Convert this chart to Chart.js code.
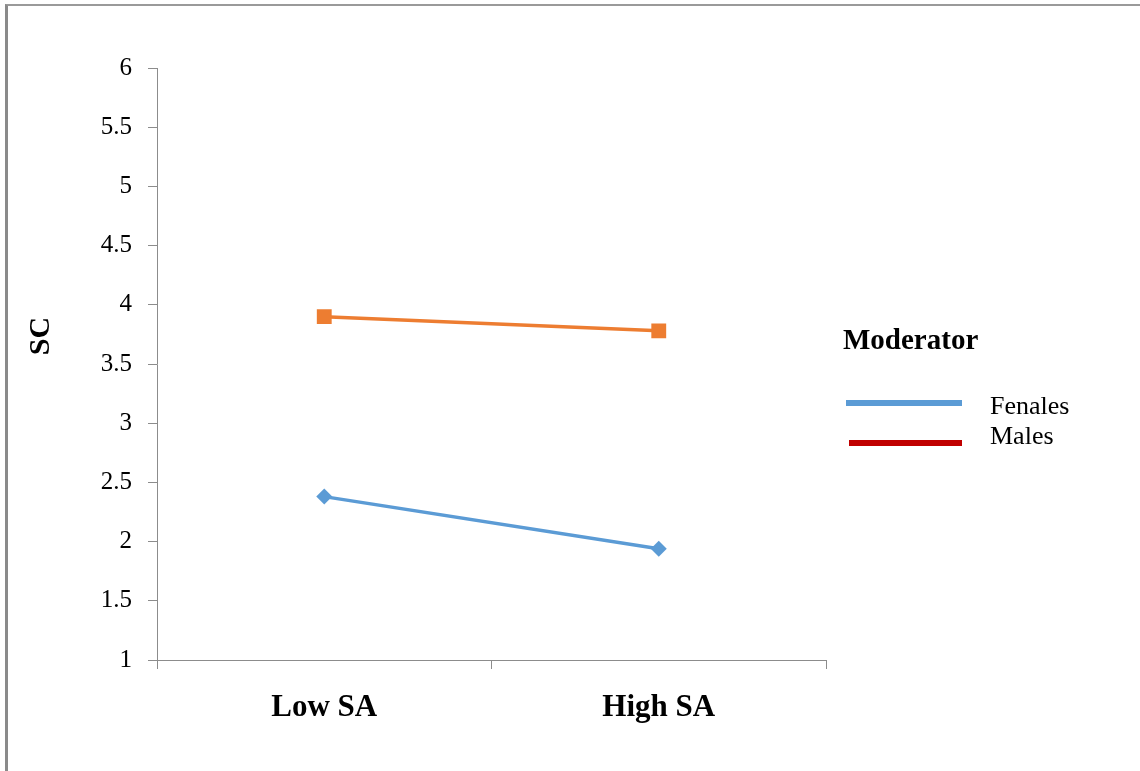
<!DOCTYPE html>
<html>
<head>
<meta charset="utf-8">
<script src="https://cdn.jsdelivr.net/npm/chart.js@4/dist/chart.umd.min.js"></script>
<style>
  html, body { margin: 0; padding: 0; background: #fff; }
  #cadre { position: relative; width: 1140px; height: 771px; overflow: hidden; }
  #bord { position: absolute; left: 5px; top: 4px; right: -10px; bottom: -10px;
          border-top: 2px solid #9a9a9a; border-left: 3px solid #8a8a8a; }
  canvas { position: absolute; left: 0; top: 0; }
</style>
</head>
<body>
<div id="cadre">
  <div id="bord"></div>
  <canvas id="graphe" width="1140" height="771"></canvas>
</div>
<script>
// données
const categories = ["Low SA", "High SA"];
const series = ["Fenales", "Males"];
const femmes = [2.38, 1.94];
const hommes = [3.90, 3.78];
const ticksY = [1, 1.5, 2, 2.5, 3, 3.5, 4, 4.5, 5, 5.5, 6];
const titreY = "SC";
const titreLegende = "Moderator";

const couleurLignes = ["#5B9BD5", "#ED7D31"];
const couleurLegende = ["#5B9BD5", "#C00000"];
const police = "'Liberation Serif', 'Times New Roman', serif";

// titre de l'axe Y et légende, dessinés à la main
const decor = {
  id: "decor",
  afterDraw(chart) {
    const ctx = chart.ctx;
    ctx.save();
    ctx.fillStyle = "#000";
    ctx.textBaseline = "middle";

    ctx.save();
    ctx.translate(41, 336);
    ctx.rotate(-Math.PI / 2);
    ctx.textAlign = "center";
    ctx.font = "bold 30px " + police;
    ctx.fillText(titreY, 0, 0);
    ctx.restore();

    ctx.textAlign = "left";
    ctx.font = "bold 29px " + police;
    ctx.fillText(titreLegende, 843, 342);

    const lignes = [[846, 403], [849, 443]];
    const textes = [407, 437];
    ctx.font = "26px " + police;
    series.forEach((nom, i) => {
      ctx.strokeStyle = couleurLegende[i];
      ctx.lineWidth = 6;
      ctx.beginPath();
      ctx.moveTo(lignes[i][0], lignes[i][1]);
      ctx.lineTo(962, lignes[i][1]);
      ctx.stroke();
      ctx.fillText(nom, 990, textes[i]);
    });
    ctx.restore();
  },
};

new Chart(document.getElementById("graphe"), {
  type: "line",
  data: {
    labels: categories,
    datasets: [
      {
        label: series[0],
        data: femmes,
        borderColor: couleurLignes[0],
        backgroundColor: couleurLignes[0],
        borderWidth: 3.5,
        pointStyle: "rectRot",
        pointRadius: 8,
        pointBorderWidth: 0,
      },
      {
        label: series[1],
        data: hommes,
        borderColor: couleurLignes[1],
        backgroundColor: couleurLignes[1],
        borderWidth: 3.5,
        pointStyle: "rect",
        pointRadius: 10.5,
        pointBorderWidth: 0,
      },
    ],
  },
  options: {
    responsive: false,
    animation: false,
    layout: { padding: { left: 0, top: 68, right: 314, bottom: 0 } },
    plugins: { legend: { display: false }, tooltip: { enabled: false } },
    scales: {
      x: {
        offset: true,
        afterFit: (s) => { s.height = 111; },
        grid: { offset: true, drawOnChartArea: false, drawTicks: true, tickLength: 9, color: "#8c8c8c" },
        border: { color: "#8c8c8c", width: 1 },
        ticks: { color: "#000", padding: 20, font: { family: police, size: 31, weight: "bold" } },
      },
      y: {
        min: 1,
        max: 6,
        afterFit: (s) => { s.width = 157; },
        afterBuildTicks: (s) => { s.ticks = ticksY.map((v) => ({ value: v })); },
        grid: { drawOnChartArea: false, drawTicks: true, tickLength: 9, color: "#8c8c8c" },
        border: { color: "#8c8c8c", width: 1 },
        ticks: {
          color: "#000",
          padding: 16,
          font: { family: police, size: 25 },
          callback: (v) => String(v),
        },
      },
    },
  },
  plugins: [decor],
});
</script>
</body>
</html>
